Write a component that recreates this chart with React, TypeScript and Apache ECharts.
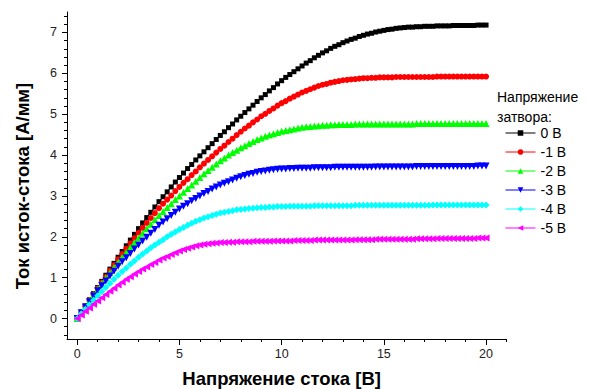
import React, { useEffect, useRef } from "react";
import * as echarts from "echarts";

const FONT = '"Liberation Sans", Arial, Helvetica, sans-serif';

// Drain voltage, V
const VOLTAGE = [
  0, 0.2, 0.4, 0.6, 0.8, 1, 1.2, 1.4, 1.6, 1.8, 2, 2.2, 2.4, 2.6, 2.8, 3, 3.2, 3.4, 3.6, 3.8,
  4, 4.2, 4.4, 4.6, 4.8, 5, 5.2, 5.4, 5.6, 5.8, 6, 6.2, 6.4, 6.6, 6.8, 7, 7.2, 7.4, 7.6, 7.8,
  8, 8.2, 8.4, 8.6, 8.8, 9, 9.2, 9.4, 9.6, 9.8, 10, 10.2, 10.4, 10.6, 10.8, 11, 11.2, 11.4, 11.6, 11.8,
  12, 12.2, 12.4, 12.6, 12.8, 13, 13.2, 13.4, 13.6, 13.8, 14, 14.2, 14.4, 14.6, 14.8, 15, 15.2, 15.4, 15.6, 15.8,
  16, 16.2, 16.4, 16.6, 16.8, 17, 17.2, 17.4, 17.6, 17.8, 18, 18.2, 18.4, 18.6, 18.8, 19, 19.2, 19.4, 19.6, 19.8,
  20,
];

const SERIES_NAMES = ["0 В", "-1 В", "-2 В", "-3 В", "-4 В", "-5 В"];

const I_0V = [
  0,
  0.15, 0.31, 0.46, 0.61, 0.76,
  0.91, 1.06, 1.21, 1.35, 1.5,
  1.64, 1.78, 1.92, 2.06, 2.2,
  2.34, 2.47, 2.6, 2.73, 2.86,
  2.98, 3.1, 3.22, 3.34, 3.45,
  3.56, 3.67, 3.77, 3.88, 3.98,
  4.08, 4.18, 4.28, 4.38, 4.48,
  4.57, 4.67, 4.76, 4.86, 4.95,
  5.04, 5.13, 5.22, 5.31, 5.4,
  5.48, 5.57, 5.65, 5.74, 5.82,
  5.9, 5.97, 6.04, 6.11, 6.18,
  6.25, 6.31, 6.38, 6.44, 6.5,
  6.55, 6.61, 6.66, 6.7, 6.75,
  6.79, 6.83, 6.86, 6.9, 6.93,
  6.96, 6.98, 7.01, 7.03, 7.05,
  7.07, 7.08, 7.1, 7.11, 7.12,
  7.13, 7.13, 7.14, 7.14, 7.15,
  7.15, 7.15, 7.16, 7.16, 7.16,
  7.16, 7.17, 7.17, 7.17, 7.17,
  7.17, 7.17, 7.18, 7.18, 7.18,
];

const I_M1V = [
  0,
  0.15, 0.3, 0.45, 0.59, 0.74,
  0.88, 1.02, 1.17, 1.31, 1.45,
  1.58, 1.71, 1.84, 1.97, 2.1,
  2.22, 2.34, 2.46, 2.58, 2.7,
  2.81, 2.91, 3.01, 3.12, 3.22,
  3.32, 3.41, 3.51, 3.6, 3.7,
  3.79, 3.88, 3.97, 4.06, 4.15,
  4.23, 4.32, 4.4, 4.49, 4.57,
  4.65, 4.72, 4.8, 4.87, 4.95,
  5.01, 5.08, 5.14, 5.21, 5.27,
  5.32, 5.38, 5.43, 5.48, 5.53,
  5.57, 5.61, 5.65, 5.69, 5.72,
  5.74, 5.77, 5.79, 5.81, 5.83,
  5.84, 5.85, 5.86, 5.87, 5.88,
  5.88, 5.89, 5.89, 5.9, 5.9,
  5.9, 5.9, 5.91, 5.91, 5.91,
  5.91, 5.91, 5.91, 5.91, 5.91,
  5.91, 5.91, 5.92, 5.92, 5.92,
  5.92, 5.92, 5.92, 5.92, 5.92,
  5.92, 5.92, 5.92, 5.92, 5.92,
];

const I_M2V = [
  0,
  0.15, 0.29, 0.44, 0.58, 0.72,
  0.86, 0.99, 1.12, 1.25, 1.38,
  1.5, 1.62, 1.74, 1.86, 1.98,
  2.09, 2.2, 2.31, 2.42, 2.52,
  2.62, 2.72, 2.81, 2.91, 3.0,
  3.09, 3.18, 3.27, 3.36, 3.45,
  3.54, 3.62, 3.7, 3.78, 3.86,
  3.93, 4.0, 4.06, 4.12, 4.18,
  4.23, 4.28, 4.33, 4.38, 4.42,
  4.46, 4.49, 4.52, 4.55, 4.58,
  4.6, 4.62, 4.64, 4.66, 4.68,
  4.69, 4.7, 4.71, 4.72, 4.73,
  4.73, 4.74, 4.74, 4.75, 4.75,
  4.75, 4.75, 4.76, 4.76, 4.76,
  4.76, 4.76, 4.76, 4.76, 4.76,
  4.76, 4.76, 4.76, 4.76, 4.76,
  4.76, 4.76, 4.77, 4.77, 4.77,
  4.77, 4.77, 4.77, 4.77, 4.77,
  4.77, 4.77, 4.77, 4.77, 4.77,
  4.77, 4.77, 4.77, 4.77, 4.77,
];

const I_M3V = [
  0,
  0.14, 0.28, 0.41, 0.55, 0.68,
  0.8, 0.92, 1.04, 1.16, 1.28,
  1.39, 1.49, 1.59, 1.7, 1.8,
  1.9, 1.99, 2.09, 2.18, 2.28,
  2.36, 2.44, 2.52, 2.6, 2.68,
  2.75, 2.81, 2.88, 2.94, 3.0,
  3.06, 3.11, 3.17, 3.22, 3.27,
  3.31, 3.35, 3.39, 3.43, 3.47,
  3.5, 3.53, 3.55, 3.58, 3.6,
  3.61, 3.63, 3.64, 3.65, 3.66,
  3.66, 3.67, 3.67, 3.68, 3.68,
  3.68, 3.68, 3.69, 3.69, 3.69,
  3.69, 3.69, 3.7, 3.7, 3.7,
  3.7, 3.7, 3.7, 3.7, 3.7,
  3.7, 3.7, 3.71, 3.71, 3.71,
  3.71, 3.71, 3.71, 3.71, 3.71,
  3.71, 3.71, 3.72, 3.72, 3.72,
  3.72, 3.72, 3.72, 3.72, 3.72,
  3.72, 3.72, 3.72, 3.72, 3.72,
  3.72, 3.72, 3.73, 3.73, 3.73,
];

const I_M4V = [
  0,
  0.12, 0.23, 0.34, 0.45, 0.56,
  0.66, 0.76, 0.86, 0.96, 1.06,
  1.15, 1.24, 1.33, 1.41, 1.5,
  1.58, 1.65, 1.73, 1.8, 1.87,
  1.93, 2.0, 2.06, 2.12, 2.18,
  2.23, 2.28, 2.33, 2.38, 2.42,
  2.46, 2.49, 2.52, 2.55, 2.58,
  2.6, 2.62, 2.64, 2.66, 2.67,
  2.68, 2.69, 2.7, 2.71, 2.72,
  2.72, 2.73, 2.73, 2.74, 2.74,
  2.74, 2.75, 2.75, 2.75, 2.75,
  2.75, 2.75, 2.76, 2.76, 2.76,
  2.76, 2.76, 2.76, 2.76, 2.76,
  2.76, 2.76, 2.77, 2.77, 2.77,
  2.77, 2.77, 2.77, 2.77, 2.77,
  2.77, 2.77, 2.77, 2.77, 2.77,
  2.77, 2.77, 2.77, 2.77, 2.77,
  2.77, 2.78, 2.78, 2.78, 2.78,
  2.78, 2.78, 2.78, 2.78, 2.78,
  2.78, 2.78, 2.78, 2.78, 2.78,
];

const I_M5V = [
  0,
  0.09, 0.18, 0.26, 0.35, 0.43,
  0.51, 0.59, 0.67, 0.74, 0.82,
  0.89, 0.96, 1.02, 1.09, 1.15,
  1.21, 1.26, 1.32, 1.37, 1.43,
  1.48, 1.52, 1.57, 1.61, 1.65,
  1.69, 1.72, 1.75, 1.78, 1.8,
  1.82, 1.83, 1.84, 1.85, 1.86,
  1.86, 1.87, 1.87, 1.88, 1.88,
  1.88, 1.88, 1.89, 1.89, 1.89,
  1.89, 1.89, 1.9, 1.9, 1.9,
  1.9, 1.9, 1.91, 1.91, 1.91,
  1.91, 1.91, 1.92, 1.92, 1.92,
  1.92, 1.92, 1.92, 1.92, 1.92,
  1.92, 1.92, 1.93, 1.93, 1.93,
  1.93, 1.93, 1.94, 1.94, 1.94,
  1.94, 1.94, 1.94, 1.94, 1.94,
  1.94, 1.94, 1.95, 1.95, 1.95,
  1.95, 1.95, 1.96, 1.96, 1.96,
  1.96, 1.96, 1.96, 1.96, 1.96,
  1.96, 1.96, 1.97, 1.97, 1.97,
];

const CURRENTS = [I_0V, I_M1V, I_M2V, I_M3V, I_M4V, I_M5V];
const COLORS = ["#000000", "#ff0000", "#00ff00", "#0000ff", "#00ffff", "#ff00ff"];
const SYMBOLS = ["rect", "circle", "triangle", "triangle", "diamond", "triangle"];
const SYMBOL_ROTATE = [0, 0, 0, 180, 0, 90];
const SYMBOL_SIZE = [5, 6, 7, 7, 7, 7];

const X_TITLE = "Напряжение стока [В]";
const Y_TITLE = "Ток исток-стока [А/мм]";
const LEGEND_TITLE = "Напряжение\nзатвора:";

// layout (pixels)
const L = 67;
const T = 12;
const W = 439.5;
const H = 327;
const PX_X = W / 21.5;
const PX_Y = H / 8;
const X0 = L + 0.5 * PX_X;

export default function App() {
  const ref = useRef<HTMLDivElement>(null);

  useEffect(() => {
    if (!ref.current) return;
    const chart = echarts.init(ref.current, null, { renderer: "svg" });

    const gridBase = { containLabel: false, outerBoundsMode: "none" };
    const hiddenAxis = (gridIndex: number) => ({
      gridIndex,
      type: "value",
      show: false,
      min: 0,
      max: 1,
    });
    const tickLine = { color: "#000", width: 1 };

    const series = CURRENTS.map((arr, s) => ({
      name: SERIES_NAMES[s],
      type: "line",
      xAxisIndex: 0,
      yAxisIndex: 0,
      data: VOLTAGE.map((v, k) => [v, arr[k]]),
      symbol: SYMBOLS[s],
      symbolSize: SYMBOL_SIZE[s],
      symbolRotate: SYMBOL_ROTATE[s],
      showSymbol: true,
      showAllSymbol: true,
      lineStyle: { color: COLORS[s], width: 1 },
      itemStyle: { color: COLORS[s] },
      emphasis: { disabled: true },
      z: 2 + s,
    }));

    chart.setOption({
      animation: false,
      backgroundColor: "#ffffff",
      textStyle: { fontFamily: FONT },
      grid: [
        { ...gridBase, left: L, top: T, width: W, height: H },
        { ...gridBase, left: X0, top: T, width: 21 * PX_X, height: H },
        { ...gridBase, left: X0, top: T, width: 20 * PX_X, height: H },
        { ...gridBase, left: L, top: T + 0.1 * PX_Y, width: W, height: 7.8 * PX_Y },
        { ...gridBase, left: L, top: T + 0.5 * PX_Y, width: W, height: 7 * PX_Y },
      ],
      xAxis: [
        {
          gridIndex: 0,
          type: "value",
          min: -0.5,
          max: 21,
          axisLine: { show: true, onZero: false, lineStyle: tickLine },
          axisTick: { show: false },
          axisLabel: { show: false },
          splitLine: { show: false },
        },
        {
          gridIndex: 1,
          type: "value",
          min: 0,
          max: 21,
          interval: 1,
          axisLine: { show: false, onZero: false },
          axisTick: { show: true, length: 3, lineStyle: tickLine },
          axisLabel: { show: false },
          splitLine: { show: false },
        },
        {
          gridIndex: 2,
          type: "value",
          min: 0,
          max: 20,
          interval: 5,
          axisLine: { show: false, onZero: false },
          axisTick: { show: true, length: 6, lineStyle: tickLine },
          axisLabel: { show: true, fontSize: 12.5, color: "#222", margin: 8, fontFamily: FONT },
          splitLine: { show: false },
          name: X_TITLE,
          nameLocation: "middle",
          nameGap: 30,
          nameTextStyle: { fontSize: 18.5, fontWeight: "bold", color: "#000", fontFamily: FONT },
        },
        hiddenAxis(3),
        hiddenAxis(4),
      ],
      yAxis: [
        {
          gridIndex: 0,
          type: "value",
          min: -0.5,
          max: 7.5,
          axisLine: { show: true, onZero: false, lineStyle: tickLine },
          axisTick: { show: false },
          axisLabel: { show: false },
          splitLine: { show: false },
        },
        hiddenAxis(1),
        hiddenAxis(2),
        {
          gridIndex: 3,
          type: "value",
          min: -0.4,
          max: 7.4,
          interval: 0.2,
          axisLine: { show: false, onZero: false },
          axisTick: { show: true, length: 3, lineStyle: tickLine },
          axisLabel: { show: false },
          splitLine: { show: false },
        },
        {
          gridIndex: 4,
          type: "value",
          min: 0,
          max: 7,
          interval: 1,
          axisLine: { show: false, onZero: false },
          axisTick: { show: true, length: 5, lineStyle: tickLine },
          axisLabel: { show: true, fontSize: 12.5, color: "#222", margin: 10, fontFamily: FONT },
          splitLine: { show: false },
        },
      ],
      legend: {
        orient: "vertical",
        left: 500,
        top: 121,
        itemWidth: 30,
        itemHeight: 7,
        itemGap: 5,
        selectedMode: false,
        data: SERIES_NAMES,
        lineStyle: { width: 1 },
        textStyle: { fontSize: 14, color: "#000", fontFamily: FONT },
      },
      graphic: [
        {
          type: "text",
          x: 22,
          y: 186,
          rotation: Math.PI / 2,
          style: {
            text: Y_TITLE,
            font: `bold 18.5px ${FONT}`,
            fill: "#000",
            align: "center",
            verticalAlign: "middle",
            textAlign: "center",
            textVerticalAlign: "middle",
          },
        },
        {
          type: "text",
          x: 497,
          y: 87,
          style: {
            text: LEGEND_TITLE,
            font: `14px ${FONT}`,
            lineHeight: 20,
            fill: "#000",
            align: "left",
            verticalAlign: "top",
          },
        },
      ],
      series,
    });

    return () => chart.dispose();
  }, []);

  return (
    <div
      ref={ref}
      style={{ position: "fixed", left: 0, top: 0, width: 590, height: 389, background: "#fff" }}
    />
  );
}
